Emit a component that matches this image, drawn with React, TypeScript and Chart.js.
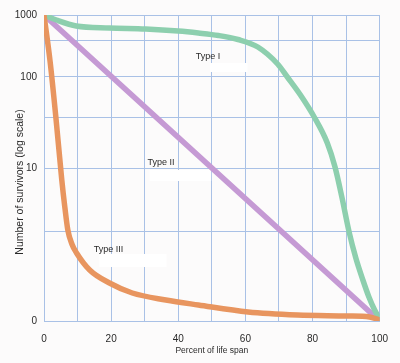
import React, { useEffect, useRef } from "react";
import { Chart, registerables } from "chart.js";

Chart.register(...registerables);

// Percent of life span (x axis)
const xMin = 0;
const xMax = 100;
const xStep = 10;

// Vertical axis: schematic survivor scale (gridline positions in axis units, with labels)
const yGridValues = [0, 89, 153, 204, 244, 281, 306];
const yGridLabels = ["0", "", "10", "", "100", "", "1000"];

// Type I survivorship
const typeIX = [0, 3.7, 9.6, 19.5, 30.3, 40, 46, 52, 57.8, 63.7, 69.6, 72.5, 76.4, 80.5, 84.4, 86.7, 88.8, 90.9, 92.9, 95, 96.8, 98.5, 100];
const typeIY = [306, 301, 295, 293, 292, 290, 288, 285.5, 281.5, 274, 257, 244, 226, 204, 178, 154, 123, 89, 63, 41, 24, 11, 2];

// Type II survivorship
const typeIIX = [0, 100];
const typeIIY = [306, 0];

// Type III survivorship
const typeIIIX = [0, 1.8, 3.5, 5.3, 6.2, 7.1, 8.3, 9.7, 13.6, 19.5, 26.3, 36.3, 46, 60.8, 75.5, 90.3, 97, 100];
const typeIIIY = [306, 260, 205, 141, 114, 91, 77, 68, 51, 38, 28, 21, 16, 9, 6, 5, 4, 1];

// Curve labels
const curveNames = ["Type I", "Type II", "Type III"];
const curveLabelX = [45.2, 30.8, 14.8];
const curveLabelY = [264, 158, 71];

const xTitle = "Percent of life span";
const yTitle = "Number of survivors (log scale)";

const FONT = "'Liberation Sans', Arial, Helvetica, sans-serif";
const GRID = "#a9c1e6";
const TEXT = "#2a2a2a";

const toPoints = (xs: number[], ys: number[]) => xs.map((x, i) => ({ x, y: ys[i] }));

const decorPlugin = {
  id: "decor",
  beforeDraw(chart: any) {
    const { ctx, width, height } = chart;
    ctx.save();
    ctx.fillStyle = "#fcfbfb";
    ctx.fillRect(0, 0, width, height);
    ctx.restore();
  },
  beforeDatasetsDraw(chart: any) {
    const { ctx } = chart;
    const xs = chart.scales.x;
    const ys = chart.scales.y;
    // white patches under the curve labels (as in the scanned figure)
    const boxes = [
      [49.4, 60.6, 258, 249],
      [31.5, 49.8, 151, 140],
      [16.5, 36.5, 67, 54],
    ];
    ctx.save();
    ctx.fillStyle = "#ffffff";
    boxes.forEach(([x0, x1, y0, y1]) => {
      const px0 = xs.getPixelForValue(x0);
      const px1 = xs.getPixelForValue(x1);
      const py0 = ys.getPixelForValue(y0);
      const py1 = ys.getPixelForValue(y1);
      ctx.fillRect(px0, py0, px1 - px0, py1 - py0);
    });
    ctx.restore();
  },
  afterDraw(chart: any) {
    const { ctx } = chart;
    const xs = chart.scales.x;
    const ys = chart.scales.y;
    ctx.save();
    ctx.fillStyle = TEXT;
    ctx.font = `9px ${FONT}`;
    ctx.textAlign = "left";
    ctx.textBaseline = "middle";
    curveNames.forEach((name, i) => {
      ctx.fillText(name, xs.getPixelForValue(curveLabelX[i]), ys.getPixelForValue(curveLabelY[i]));
    });
    // y axis title
    ctx.translate(20, 182);
    ctx.rotate(-Math.PI / 2);
    ctx.textAlign = "center";
    ctx.font = `10.5px ${FONT}`;
    ctx.fillText(yTitle, 0, 0);
    ctx.restore();
  },
};

export default function App() {
  const canvasRef = useRef<HTMLCanvasElement | null>(null);

  useEffect(() => {
    if (!canvasRef.current) return;
    const common = {
      pointRadius: 0,
      pointHoverRadius: 0,
      borderWidth: 5.5,
      fill: false,
      borderCapStyle: "round" as const,
      borderJoinStyle: "round" as const,
    };
    const chart = new Chart(canvasRef.current, {
      type: "line",
      data: {
        datasets: [
          {
            ...common,
            label: curveNames[2],
            data: toPoints(typeIIIX, typeIIIY),
            borderColor: "#e8955f",
            cubicInterpolationMode: "monotone",
          },
          {
            ...common,
            label: curveNames[0],
            data: toPoints(typeIX, typeIY),
            borderColor: "#8dcfae",
            cubicInterpolationMode: "monotone",
          },
          {
            ...common,
            label: curveNames[1],
            data: toPoints(typeIIX, typeIIY),
            borderColor: "#c59ad4",
            tension: 0,
          },
        ],
      },
      options: {
        animation: false,
        responsive: true,
        maintainAspectRatio: false,
        layout: { padding: { top: 15, right: 17, left: 0, bottom: 0 } },
        plugins: {
          legend: { display: false },
          tooltip: { enabled: false },
          title: { display: false },
        },
        scales: {
          x: {
            type: "linear",
            min: xMin,
            max: xMax,
            afterFit: (s: any) => {
              s.height = 42;
            },
            ticks: {
              stepSize: xStep,
              autoSkip: false,
              maxRotation: 0,
              padding: 12,
              color: TEXT,
              font: { family: FONT, size: 10 },
              callback: (v: any) => (Number(v) % 20 === 0 ? String(v) : ""),
            },
            grid: { color: GRID, lineWidth: 1, drawTicks: false },
            border: { display: true, color: GRID, width: 1 },
            title: {
              display: true,
              text: xTitle,
              color: TEXT,
              font: { family: FONT, size: 8.5 },
              padding: { top: 0, bottom: 7 },
            },
          },
          y: {
            type: "linear",
            min: yGridValues[0],
            max: yGridValues[yGridValues.length - 1],
            afterFit: (s: any) => {
              s.width = 44;
            },
            afterBuildTicks: (s: any) => {
              s.ticks = yGridValues.map((v) => ({ value: v }));
            },
            ticks: {
              autoSkip: false,
              padding: 7,
              color: TEXT,
              font: { family: FONT, size: 10 },
              callback: (v: any) => {
                const i = yGridValues.indexOf(Number(v));
                return i >= 0 ? yGridLabels[i] : "";
              },
            },
            grid: { color: GRID, lineWidth: 1, drawTicks: false },
            border: { display: true, color: GRID, width: 1 },
          },
        },
      },
      plugins: [decorPlugin],
    });
    return () => chart.destroy();
  }, []);

  return (
    <div style={{ position: "absolute", left: 0, top: 0, width: 400, height: 363 }}>
      <canvas ref={canvasRef} />
    </div>
  );
}
